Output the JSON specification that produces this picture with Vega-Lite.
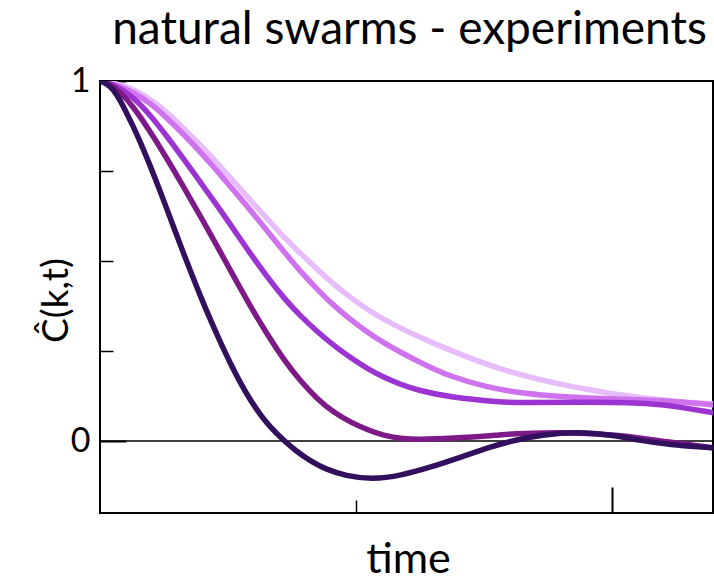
{
  "$schema": "https://vega.github.io/schema/vega-lite/v6.json",
  "autosize": "none",
  "padding": {"left": 100, "top": 81, "right": 1, "bottom": 68},
  "width": 613,
  "height": 432,
  "background": "white",
  "config": {
    "font": "Lato",
    "view": {"stroke": "black", "strokeWidth": 2}
  },
  "title": {
    "text": "natural swarms - experiments",
    "font": "Lato",
    "fontSize": 46,
    "fontWeight": "normal",
    "color": "black",
    "anchor": "middle",
    "baseline": "alphabetic",
    "offset": -26,
    "dx": 3
  },
  "layer": [
    {
      "data": {"values": [{"c": 0}]},
      "mark": {"type": "rule", "color": "black", "strokeWidth": 1.5},
      "encoding": {"y": {"field": "c", "type": "quantitative"}}
    },
    {
      "data": {"values": [
        {"series": "k1", "t": 0, "c": 1},
        {"series": "k1", "t": 0.067, "c": 0.992},
        {"series": "k1", "t": 0.129, "c": 0.978},
        {"series": "k1", "t": 0.196, "c": 0.95},
        {"series": "k1", "t": 0.262, "c": 0.914},
        {"series": "k1", "t": 0.325, "c": 0.869},
        {"series": "k1", "t": 0.392, "c": 0.822},
        {"series": "k1", "t": 0.458, "c": 0.772},
        {"series": "k1", "t": 0.521, "c": 0.722},
        {"series": "k1", "t": 0.587, "c": 0.669},
        {"series": "k1", "t": 0.654, "c": 0.617},
        {"series": "k1", "t": 0.717, "c": 0.567},
        {"series": "k1", "t": 0.783, "c": 0.521},
        {"series": "k1", "t": 0.85, "c": 0.476},
        {"series": "k1", "t": 0.912, "c": 0.436},
        {"series": "k1", "t": 0.979, "c": 0.398},
        {"series": "k1", "t": 1.045, "c": 0.365},
        {"series": "k1", "t": 1.108, "c": 0.338},
        {"series": "k1", "t": 1.175, "c": 0.313},
        {"series": "k1", "t": 1.241, "c": 0.291},
        {"series": "k1", "t": 1.304, "c": 0.271},
        {"series": "k1", "t": 1.37, "c": 0.252},
        {"series": "k1", "t": 1.5, "c": 0.215},
        {"series": "k1", "t": 1.633, "c": 0.185},
        {"series": "k1", "t": 1.762, "c": 0.163},
        {"series": "k1", "t": 1.891, "c": 0.145},
        {"series": "k1", "t": 2.024, "c": 0.128},
        {"series": "k1", "t": 2.153, "c": 0.117},
        {"series": "k1", "t": 2.283, "c": 0.108},
        {"series": "k1", "t": 2.4, "c": 0.103},

        {"series": "k2", "t": 0, "c": 1},
        {"series": "k2", "t": 0.067, "c": 0.989},
        {"series": "k2", "t": 0.129, "c": 0.969},
        {"series": "k2", "t": 0.196, "c": 0.939},
        {"series": "k2", "t": 0.262, "c": 0.897},
        {"series": "k2", "t": 0.325, "c": 0.853},
        {"series": "k2", "t": 0.392, "c": 0.803},
        {"series": "k2", "t": 0.458, "c": 0.75},
        {"series": "k2", "t": 0.521, "c": 0.697},
        {"series": "k2", "t": 0.587, "c": 0.642},
        {"series": "k2", "t": 0.654, "c": 0.583},
        {"series": "k2", "t": 0.717, "c": 0.527},
        {"series": "k2", "t": 0.783, "c": 0.471},
        {"series": "k2", "t": 0.85, "c": 0.42},
        {"series": "k2", "t": 0.912, "c": 0.377},
        {"series": "k2", "t": 0.979, "c": 0.337},
        {"series": "k2", "t": 1.045, "c": 0.302},
        {"series": "k2", "t": 1.108, "c": 0.273},
        {"series": "k2", "t": 1.175, "c": 0.246},
        {"series": "k2", "t": 1.241, "c": 0.222},
        {"series": "k2", "t": 1.304, "c": 0.2},
        {"series": "k2", "t": 1.37, "c": 0.18},
        {"series": "k2", "t": 1.5, "c": 0.151},
        {"series": "k2", "t": 1.633, "c": 0.134},
        {"series": "k2", "t": 1.762, "c": 0.125},
        {"series": "k2", "t": 1.891, "c": 0.119},
        {"series": "k2", "t": 2.153, "c": 0.114},
        {"series": "k2", "t": 2.283, "c": 0.108},
        {"series": "k2", "t": 2.4, "c": 0.1},

        {"series": "k3", "t": 0, "c": 1},
        {"series": "k3", "t": 0.059, "c": 0.989},
        {"series": "k3", "t": 0.129, "c": 0.956},
        {"series": "k3", "t": 0.196, "c": 0.906},
        {"series": "k3", "t": 0.262, "c": 0.846},
        {"series": "k3", "t": 0.325, "c": 0.785},
        {"series": "k3", "t": 0.392, "c": 0.719},
        {"series": "k3", "t": 0.458, "c": 0.654},
        {"series": "k3", "t": 0.521, "c": 0.589},
        {"series": "k3", "t": 0.587, "c": 0.521},
        {"series": "k3", "t": 0.654, "c": 0.455},
        {"series": "k3", "t": 0.717, "c": 0.398},
        {"series": "k3", "t": 0.783, "c": 0.347},
        {"series": "k3", "t": 0.85, "c": 0.303},
        {"series": "k3", "t": 0.912, "c": 0.266},
        {"series": "k3", "t": 0.979, "c": 0.231},
        {"series": "k3", "t": 1.045, "c": 0.201},
        {"series": "k3", "t": 1.108, "c": 0.177},
        {"series": "k3", "t": 1.175, "c": 0.157},
        {"series": "k3", "t": 1.241, "c": 0.141},
        {"series": "k3", "t": 1.37, "c": 0.121},
        {"series": "k3", "t": 1.566, "c": 0.108},
        {"series": "k3", "t": 1.633, "c": 0.106},
        {"series": "k3", "t": 1.891, "c": 0.108},
        {"series": "k3", "t": 2.153, "c": 0.106},
        {"series": "k3", "t": 2.283, "c": 0.092},
        {"series": "k3", "t": 2.4, "c": 0.078},

        {"series": "k4", "t": 0, "c": 1},
        {"series": "k4", "t": 0.039, "c": 0.992},
        {"series": "k4", "t": 0.078, "c": 0.97},
        {"series": "k4", "t": 0.129, "c": 0.93},
        {"series": "k4", "t": 0.196, "c": 0.86},
        {"series": "k4", "t": 0.262, "c": 0.784},
        {"series": "k4", "t": 0.325, "c": 0.708},
        {"series": "k4", "t": 0.392, "c": 0.625},
        {"series": "k4", "t": 0.458, "c": 0.541},
        {"series": "k4", "t": 0.521, "c": 0.459},
        {"series": "k4", "t": 0.587, "c": 0.375},
        {"series": "k4", "t": 0.654, "c": 0.295},
        {"series": "k4", "t": 0.717, "c": 0.227},
        {"series": "k4", "t": 0.783, "c": 0.166},
        {"series": "k4", "t": 0.85, "c": 0.116},
        {"series": "k4", "t": 0.912, "c": 0.08},
        {"series": "k4", "t": 0.979, "c": 0.052},
        {"series": "k4", "t": 1.045, "c": 0.031},
        {"series": "k4", "t": 1.108, "c": 0.015},
        {"series": "k4", "t": 1.175, "c": 0.007},
        {"series": "k4", "t": 1.241, "c": 0.004},
        {"series": "k4", "t": 1.37, "c": 0.007},
        {"series": "k4", "t": 1.566, "c": 0.017},
        {"series": "k4", "t": 1.633, "c": 0.021},
        {"series": "k4", "t": 1.828, "c": 0.025},
        {"series": "k4", "t": 2.024, "c": 0.017},
        {"series": "k4", "t": 2.22, "c": -0.003},
        {"series": "k4", "t": 2.4, "c": -0.019},

        {"series": "k5", "t": 0, "c": 1},
        {"series": "k5", "t": 0.027, "c": 0.993},
        {"series": "k5", "t": 0.051, "c": 0.977},
        {"series": "k5", "t": 0.078, "c": 0.948},
        {"series": "k5", "t": 0.106, "c": 0.908},
        {"series": "k5", "t": 0.129, "c": 0.875},
        {"series": "k5", "t": 0.157, "c": 0.831},
        {"series": "k5", "t": 0.196, "c": 0.765},
        {"series": "k5", "t": 0.235, "c": 0.694},
        {"series": "k5", "t": 0.262, "c": 0.643},
        {"series": "k5", "t": 0.294, "c": 0.582},
        {"series": "k5", "t": 0.325, "c": 0.524},
        {"series": "k5", "t": 0.352, "c": 0.474},
        {"series": "k5", "t": 0.392, "c": 0.403},
        {"series": "k5", "t": 0.431, "c": 0.337},
        {"series": "k5", "t": 0.47, "c": 0.275},
        {"series": "k5", "t": 0.509, "c": 0.216},
        {"series": "k5", "t": 0.548, "c": 0.162},
        {"series": "k5", "t": 0.587, "c": 0.114},
        {"series": "k5", "t": 0.626, "c": 0.073},
        {"series": "k5", "t": 0.666, "c": 0.038},
        {"series": "k5", "t": 0.717, "c": 0.002},
        {"series": "k5", "t": 0.763, "c": -0.026},
        {"series": "k5", "t": 0.822, "c": -0.056},
        {"series": "k5", "t": 0.881, "c": -0.078},
        {"series": "k5", "t": 0.959, "c": -0.097},
        {"series": "k5", "t": 1.065, "c": -0.107},
        {"series": "k5", "t": 1.175, "c": -0.096},
        {"series": "k5", "t": 1.292, "c": -0.073},
        {"series": "k5", "t": 1.41, "c": -0.045},
        {"series": "k5", "t": 1.527, "c": -0.016},
        {"series": "k5", "t": 1.617, "c": 0.002},
        {"series": "k5", "t": 1.723, "c": 0.017},
        {"series": "k5", "t": 1.868, "c": 0.026},
        {"series": "k5", "t": 1.997, "c": 0.017},
        {"series": "k5", "t": 2.114, "c": 0.001},
        {"series": "k5", "t": 2.232, "c": -0.011},
        {"series": "k5", "t": 2.349, "c": -0.017},
        {"series": "k5", "t": 2.4, "c": -0.019}
      ]},
      "mark": {"type": "line", "strokeWidth": 5.5, "interpolate": "basis", "clip": true},
      "encoding": {
        "x": {
          "field": "t",
          "type": "quantitative",
          "scale": {"domain": [0, 2.395], "nice": false, "zero": false},
          "axis": {
            "title": "time",
            "titleFont": "Lato",
            "titleFontSize": 43,
            "titleFontWeight": "normal",
            "titleColor": "black",
            "titleBaseline": "alphabetic",
            "titleX": 308,
            "titleY": 59,
            "values": [1, 2],
            "labels": false,
            "domain": false,
            "grid": false,
            "tickColor": "black",
            "tickSize": {"condition": {"test": "datum.value === 2", "value": -26}, "value": -13},
            "tickWidth": {"condition": {"test": "datum.value === 2", "value": 2}, "value": 1.5}
          }
        },
        "y": {
          "field": "c",
          "type": "quantitative",
          "scale": {"domain": [-0.2, 1], "nice": false, "zero": false},
          "axis": {
            "title": "Ĉ(k,t)",
            "titleFont": "Lato",
            "titleFontSize": 37,
            "titleFontWeight": "normal",
            "titleColor": "black",
            "titleAngle": -90,
            "titleAlign": "center",
            "titleBaseline": "alphabetic",
            "titleX": -33,
            "titleY": 219,
            "values": [0, 0.25, 0.5, 0.75, 1],
            "labelExpr": "datum.value === 1 ? '1' : datum.value === 0 ? '0' : ''",
            "labelFont": "Lato",
            "labelFontSize": 34,
            "labelColor": "black",
            "labelPadding": 36,
            "domain": false,
            "grid": false,
            "tickColor": "black",
            "tickSize": {"condition": {"test": "datum.value === 0 || datum.value === 1", "value": -26}, "value": -13},
            "tickWidth": {"condition": {"test": "datum.value === 0 || datum.value === 1", "value": 2}, "value": 1.5}
          }
        },
        "color": {
          "field": "series",
          "type": "nominal",
          "scale": {
            "domain": ["k1", "k2", "k3", "k4", "k5"],
            "range": ["#e6bcfc", "#cf72ee", "#9b34d0", "#7d1a88", "#33105e"]
          },
          "legend": null
        }
      }
    }
  ]
}
